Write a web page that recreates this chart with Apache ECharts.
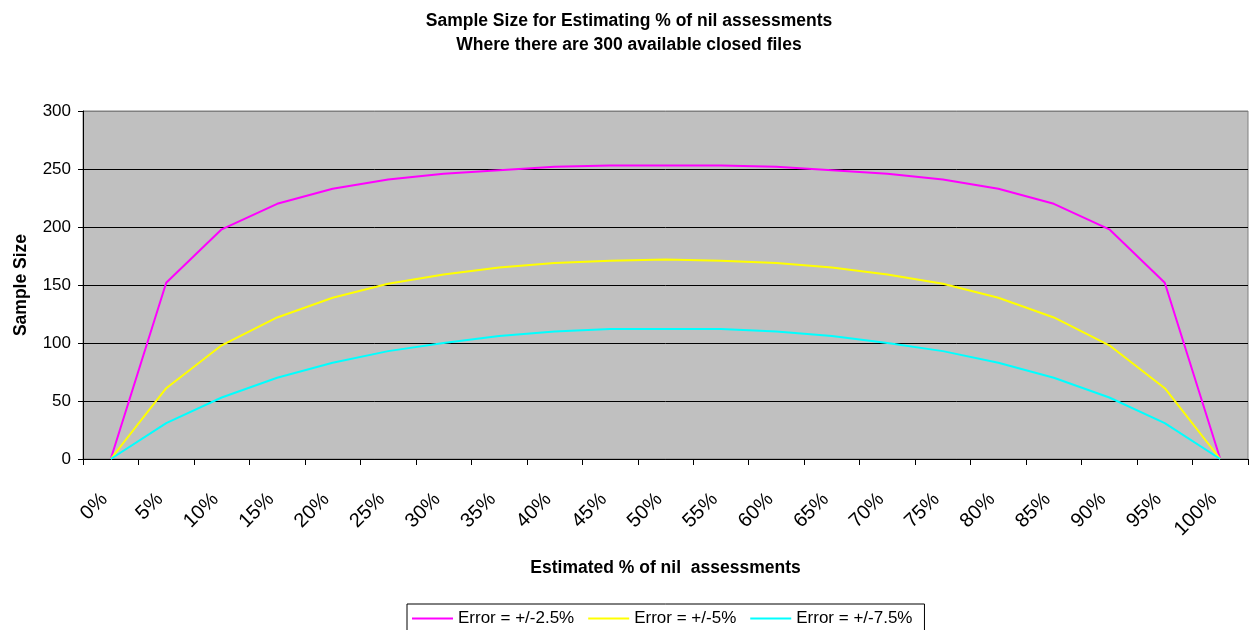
<!DOCTYPE html>
<html>
<head>
<meta charset="utf-8">
<script src="https://cdn.jsdelivr.net/npm/echarts@6/dist/echarts.min.js"></script>
<style>
html,body{margin:0;padding:0;background:#fff;}
#chart{width:1258px;height:630px;}
</style>
</head>
<body>
<div id="chart"></div>
<script>
var categories = ['0%','5%','10%','15%','20%','25%','30%','35%','40%','45%','50%','55%','60%','65%','70%','75%','80%','85%','90%','95%','100%'];
var err25 = [0,152,198,220,233,241,246,249,252,253,253,253,252,249,246,241,233,220,198,152,0];
var err5  = [0,61,98,122,139,151,159,165,169,171,172,171,169,165,159,151,139,122,98,61,0];
var err75 = [0,31,53,70,83,93,100,106,110,112,112,112,110,106,100,93,83,70,53,31,0];
var seriesNames = ['Error = +/-2.5%','Error = +/-5%','Error = +/-7.5%'];
var yTicks = [0,50,100,150,200,250,300];

var FONT = '"Liberation Sans", Arial, sans-serif';
var chart = echarts.init(document.getElementById('chart'));
chart.setOption({
  animation: false,
  backgroundColor: '#ffffff',
  title: {
    text: 'Sample Size for Estimating % of nil assessments\nWhere there are 300 available closed files',
    left: 629,
    top: 9,
    padding: 0,
    textAlign: 'center',
    textStyle: { fontFamily: FONT, fontSize: 17.5, fontWeight: 'bold', color: '#000', lineHeight: 24, align: 'center' }
  },
  legend: {
    data: seriesNames,
    left: 407,
    top: 604,
    orient: 'horizontal',
    icon: 'rect',
    itemWidth: 41,
    itemHeight: 2,
    itemGap: 14,
    padding: [6, 12, 20, 5],
    borderColor: '#000',
    borderWidth: 1,
    backgroundColor: '#fff',
    textStyle: { fontFamily: FONT, fontSize: 17, color: '#000' }
  },
  grid: {
    left: 83, right: 10, top: 111, bottom: 171,
    show: true,
    backgroundColor: '#C0C0C0',
    borderColor: '#808080',
    borderWidth: 1,
    containLabel: false
  },
  xAxis: {
    type: 'category',
    data: categories,
    boundaryGap: true,
    name: 'Estimated % of nil  assessments',
    nameLocation: 'middle',
    nameGap: 100,
    nameTextStyle: { fontFamily: FONT, fontSize: 17.5, fontWeight: 'bold', color: '#000' },
    axisLine: { show: true, lineStyle: { color: '#000', width: 1 } },
    axisTick: { show: true, length: 6, alignWithLabel: false, lineStyle: { color: '#000' } },
    axisLabel: { rotate: 45, margin: 31, padding: [0, 9, 0, 0], interval: 0, fontFamily: FONT, fontSize: 20, color: '#000' },
    splitLine: { show: false }
  },
  yAxis: {
    type: 'value',
    min: yTicks[0],
    max: yTicks[yTicks.length - 1],
    interval: 50,
    name: 'Sample Size',
    nameLocation: 'middle',
    nameGap: 53,
    nameTextStyle: { fontFamily: FONT, fontSize: 17.5, fontWeight: 'bold', color: '#000' },
    axisLine: { show: true, lineStyle: { color: '#000', width: 1 } },
    axisTick: { show: true, length: 5, lineStyle: { color: '#000' } },
    axisLabel: { margin: 12, fontFamily: FONT, fontSize: 17, color: '#000' },
    splitLine: { show: true, lineStyle: { color: ['#000','#000','#000','#000','#000','#000','#808080'], width: 1 } }
  },
  series: [
    { name: seriesNames[0], type: 'line', data: err25, showSymbol: false, symbol: 'none', lineStyle: { color: '#FF00FF', width: 2 }, itemStyle: { color: '#FF00FF' } },
    { name: seriesNames[1], type: 'line', data: err5, showSymbol: false, symbol: 'none', lineStyle: { color: '#FFFF00', width: 2 }, itemStyle: { color: '#FFFF00' } },
    { name: seriesNames[2], type: 'line', data: err75, showSymbol: false, symbol: 'none', lineStyle: { color: '#00FFFF', width: 2 }, itemStyle: { color: '#00FFFF' } }
  ]
});
</script>
</body>
</html>
